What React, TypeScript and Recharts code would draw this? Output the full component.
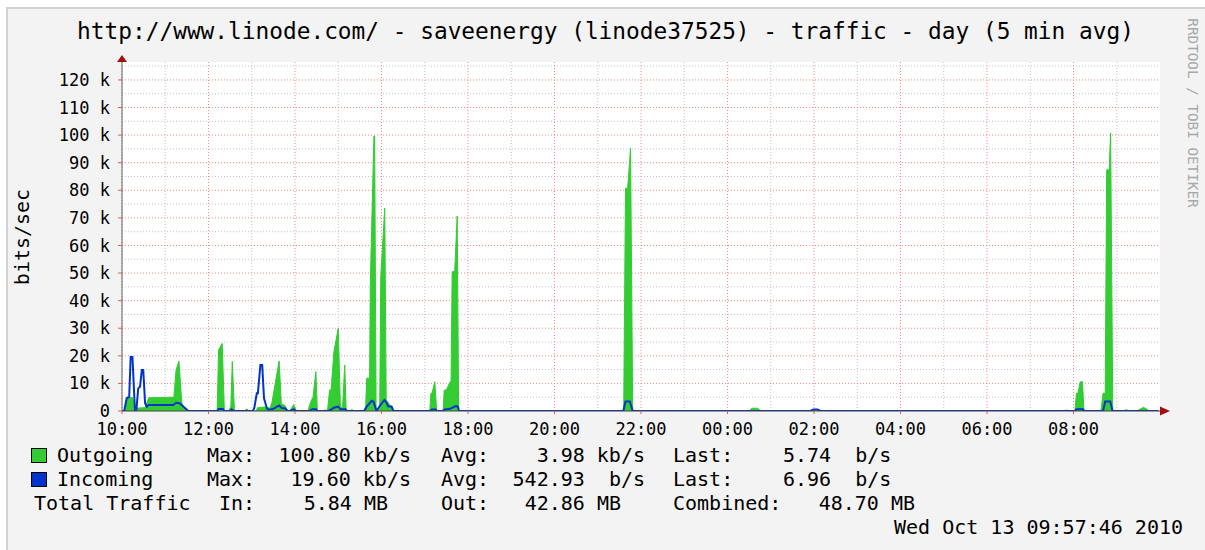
import React from 'react';
import { ComposedChart, Area, Line, XAxis, YAxis, CartesianGrid } from 'recharts';

// time = minutes after 10:00 (Oct 12), value = kb/s
const outgoing: [number, number][] = [
  [0, 0], [3, 0], [7, 5.0], [15, 4.8], [17, 1.0], [32, 1.2], [37, 4.8], [72, 5.0], [75, 14.9], [79, 18.1],
  [83, 2.8], [87, 0.8], [92, 0],
  [132, 0], [134, 22.1], [139, 24.5], [142, 0],
  [148, 0], [151, 1.5], [153, 18.0], [156, 0],
  [170, 0], [173, 0.8], [176, 0],
  [186, 0], [188, 1.2], [200, 1.5], [205, 1.0], [208, 3.0], [212, 9.2], [218, 18.1], [221, 2.5], [226, 2.0], [230, 0],
  [233, 0], [238, 2.3], [242, 0],
  [258, 0], [260, 2.0], [263, 4.0], [265, 5.0], [269, 14.3], [271, 0],
  [279, 0], [282, 0.4], [285, 0],
  [288, 7.6], [290, 7.6], [294, 21.5], [300, 30.0], [303, 1.4], [306, 1.4], [309, 16.7], [311, 0],
  [316, 0], [319, 0.5], [322, 0],
  [336, 0], [338, 1.6], [339.5, 11.9], [343.5, 11.9], [344.5, 46.9], [349.5, 99.7], [350.5, 99.7], [352.5, 0.4],
  [357.5, 0.4], [359, 48.7], [364.5, 73.5], [366.5, 4.0], [373.5, 1.6], [376, 0],
  [427, 0], [428.5, 6.4], [430, 6.4], [434, 10.6], [436.5, 0],
  [445.5, 0], [447, 7.6], [450, 7.6], [454, 10.0], [456.5, 11.0], [458, 50.5], [461.5, 50.5], [465, 70.7], [467, 0],
  [696, 0], [698.5, 80.7], [701.5, 80.7], [705.5, 95.2], [708.5, 0],
  [870, 0], [874, 1.0], [882, 1.0], [886, 0],
  [1307, 0], [1310.5, 0.4], [1314, 0],
  [1322, 0], [1324, 6.4], [1326, 6.4], [1329.5, 10.6], [1332.5, 10.6], [1334.5, 0],
  [1358, 0], [1361, 6.4], [1364, 6.4], [1366, 87.4], [1369.5, 87.4], [1371.5, 100.8], [1374.5, 0],
  [1390, 0], [1393, 0.5], [1397, 0],
  [1408, 0], [1413, 0.8], [1417, 1.3], [1421, 0.8], [1425, 0],
  [1438, 0],
];

const incoming: [number, number][] = [
  [0, 0], [3, 0], [6.5, 4.6], [10, 5.2], [12, 19.6], [14.5, 19.6], [18, 0], [20, 0.5], [22.5, 8.2], [25, 8.8],
  [27.5, 14.9], [29.5, 14.9], [32, 2.8], [34.5, 1.5], [37, 2.2], [71, 2.2], [75, 3.0], [80, 2.8], [87, 1.2], [92, 0],
  [132, 0], [134, 0.7], [140, 0.7], [142, 0],
  [150, 0], [152, 0.6], [155, 0],
  [181, 0], [183.5, 1.0], [187, 6.4], [188.5, 6.4], [192, 16.7], [194.5, 16.7], [197, 4.6], [201, 1.0], [203, 0.5],
  [205, 0.5], [210, 0.8], [218, 2.0], [222, 1.0], [226, 1.0], [230, 0],
  [233, 0], [238, 0.6], [242, 0],
  [260, 0], [264, 0.6], [269, 0.6], [271, 0],
  [286, 0], [290, 0.5], [294, 1.2], [300, 1.6], [303, 0.6], [310, 0.6], [312, 0],
  [336, 0], [339.5, 1.6], [346.5, 3.7], [349, 3.4], [353, 0], [358, 2.0], [364, 4.0], [366, 3.4], [369.5, 1.6],
  [374, 1.6], [376.5, 0],
  [428, 0], [430, 0.5], [435, 0.5], [437, 0],
  [445, 0], [447, 0.5], [455, 0.8], [463, 1.8], [466, 1.6], [467.5, 0],
  [695.5, 0], [698.5, 3.4], [704.5, 3.4], [708.5, 0],
  [955, 0], [959, 0.5], [965, 0.5], [969, 0],
  [1322, 0], [1324, 0.6], [1333, 0.6], [1335, 0],
  [1361, 0], [1364, 3.4], [1371, 3.4], [1374, 0],
  [1438, 0],
];

const xTicks = [0, 120, 240, 360, 480, 600, 720, 840, 960, 1080, 1200, 1320];
const xLabels = ['10:00', '12:00', '14:00', '16:00', '18:00', '20:00', '22:00', '00:00', '02:00', '04:00', '06:00', '08:00'];
const xMinor = [60, 180, 300, 420, 540, 660, 780, 900, 1020, 1140, 1260, 1380];
const yTicks = [0, 10, 20, 30, 40, 50, 60, 70, 80, 90, 100, 110, 120];
const yMajor = [10, 20, 30, 40, 50, 60, 70, 80, 90, 100, 110, 120];
const yMinor = [5, 15, 25, 35, 45, 55, 65, 75, 85, 95, 105, 115, 125];

const times = Array.from(new Set([...outgoing.map(p => p[0]), ...incoming.map(p => p[0])])).sort((a, b) => a - b);
const outMap = new Map(outgoing);
const inMap = new Map(incoming);
const table = times.map(t => ({ t, out: outMap.get(t) ?? null, inc: inMap.get(t) ?? null }));

const MONO = '"DejaVu Sans Mono", monospace';

const Txt = ({ x, y, right, children, size = 20, color = '#000' }: any) => (
  <div
    style={{
      position: 'absolute',
      top: y - 12,
      left: right === undefined ? x : undefined,
      right: right === undefined ? undefined : 1205 - right,
      fontFamily: MONO,
      fontSize: size,
      lineHeight: '24px',
      whiteSpace: 'pre',
      color,
    }}
  >
    {children}
  </div>
);

export default function App() {
  return (
    <div style={{ position: 'absolute', left: 0, top: 0, width: 1205, height: 550, background: '#fff', overflow: 'hidden' }}>
      <div
        style={{
          position: 'absolute', left: 6, top: 7, right: 0, bottom: 0, background: '#f3f3f3',
          borderTop: '2px solid #d2d2d2', borderLeft: '2px solid #d2d2d2',
        }}
      />
      <div style={{ position: 'absolute', left: 0, top: 0 }}>
        <ComposedChart width={1205} height={550} data={table} margin={{ top: 62, right: 45, bottom: 109, left: 0 }}>
          <CartesianGrid fill="#fff" fillOpacity={1} stroke="#c4c4c4" strokeDasharray="1 2" horizontalValues={yMinor} verticalValues={xMinor} />
          <CartesianGrid stroke="#f28a8a" strokeDasharray="1 2" horizontalValues={yMajor} verticalValues={xTicks} />
          <XAxis
            type="number"
            dataKey="t"
            domain={[0, 1440]}
            ticks={xTicks}
            tickFormatter={(v: number) => xLabels[xTicks.indexOf(v)]}
            height={30}
            tickSize={3}
            tickMargin={9}
            axisLine={{ stroke: '#444' }}
            tickLine={{ stroke: '#d06060' }}
            tick={{ fontFamily: MONO, fontSize: 17, fill: '#000' }}
            allowDataOverflow
          />
          <YAxis
            type="number"
            domain={[0, 126.5]}
            ticks={yTicks}
            tickFormatter={(v: number) => (v === 0 ? '0' : `${v} k`)}
            width={122}
            tickSize={4}
            tickMargin={8}
            axisLine={{ stroke: '#666' }}
            tickLine={{ stroke: '#d06060' }}
            tick={{ fontFamily: MONO, fontSize: 17, fill: '#000' }}
            allowDataOverflow
          />
          <Area
            type="linear"
            dataKey="out"
            connectNulls
            stroke="#33cc33"
            strokeWidth={1}
            fill="#33cc33"
            fillOpacity={1}
            isAnimationActive={false}
            dot={false}
            activeDot={false}
          />
          <Line
            type="linear"
            dataKey="inc"
            connectNulls
            stroke="#0033cc"
            strokeWidth={2}
            dot={false}
            activeDot={false}
            isAnimationActive={false}
          />
        </ComposedChart>
      </div>
      <svg width={1205} height={550} style={{ position: 'absolute', left: 0, top: 0, pointerEvents: 'none' }}>
        <line x1={122} y1={62} x2={122} y2={58} stroke="#666" />
        <polygon points="117,62 127,62 122,55" fill="#a01010" />
        <line x1={1160} y1={411} x2={1162} y2={411} stroke="#444" />
        <polygon points="1160,406.5 1160,415.5 1170,411" fill="#a01010" />
      </svg>
      <div
        style={{
          position: 'absolute', left: 0, width: 1211, top: 17, textAlign: 'center',
          fontFamily: MONO, fontSize: 22.8, lineHeight: '28px', whiteSpace: 'pre', color: '#000',
        }}
      >
        http://www.linode.com/ - saveenergy (linode37525) - traffic - day (5 min avg)
      </div>
      <div
        style={{
          position: 'absolute', left: 22, top: 237, transform: 'translate(-50%, -50%) rotate(-90deg)',
          fontFamily: MONO, fontSize: 20, whiteSpace: 'pre', color: '#000',
        }}
      >
        bits/sec
      </div>
      <div
        style={{
          position: 'absolute', left: 1193, top: 113, transform: 'translate(-50%, -50%) rotate(90deg)',
          fontFamily: MONO, fontSize: 14.3, whiteSpace: 'pre', color: '#a8a8a8',
        }}
      >
        RRDTOOL / TOBI OETIKER
      </div>

      <div style={{ position: 'absolute', left: 31, top: 448, width: 14, height: 13, background: '#33cc33', border: '1px solid #000' }} />
      <div style={{ position: 'absolute', left: 31, top: 472, width: 14, height: 13, background: '#0033cc', border: '1px solid #000' }} />

      <Txt x={57} y={455}>Outgoing</Txt>
      <Txt x={207} y={455}>Max:</Txt>
      <Txt right={411} y={455}>100.80 kb/s</Txt>
      <Txt x={441} y={455}>Avg:</Txt>
      <Txt right={645} y={455}>3.98 kb/s</Txt>
      <Txt x={673} y={455}>Last:</Txt>
      <Txt x={783} y={455}>5.74  b/s</Txt>

      <Txt x={57} y={479}>Incoming</Txt>
      <Txt x={207} y={479}>Max:</Txt>
      <Txt right={411} y={479}>19.60 kb/s</Txt>
      <Txt x={441} y={479}>Avg:</Txt>
      <Txt right={645} y={479}>542.93  b/s</Txt>
      <Txt x={673} y={479}>Last:</Txt>
      <Txt x={783} y={479}>6.96  b/s</Txt>

      <Txt x={34} y={503}>Total Traffic</Txt>
      <Txt x={219} y={503}>In:</Txt>
      <Txt right={388} y={503}>5.84 MB</Txt>
      <Txt x={441} y={503}>Out:</Txt>
      <Txt right={621} y={503}>42.86 MB</Txt>
      <Txt x={673} y={503}>Combined:</Txt>
      <Txt right={915} y={503}>48.70 MB</Txt>

      <Txt right={1183} y={527}>Wed Oct 13 09:57:46 2010</Txt>
    </div>
  );
}
